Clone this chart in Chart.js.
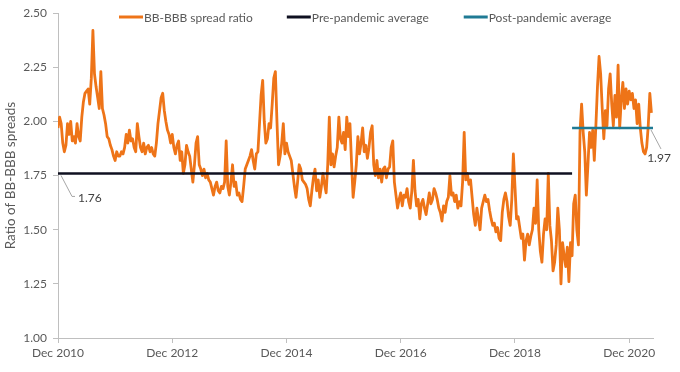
<!DOCTYPE html>
<html>
<head>
<meta charset="utf-8">
<script src="https://cdn.jsdelivr.net/npm/chart.js@4.4.1/dist/chart.umd.min.js"></script>
<style>
  html, body { margin: 0; padding: 0; background: #ffffff; }
  #wrap { width: 680px; height: 372px; position: relative; }
</style>
</head>
<body>
<div id="wrap"><canvas id="c" width="680" height="372"></canvas></div>
<script>
// ---- Data ----
// BB-BBB spread ratio, three readings per month, starting Dec 2010
const samplesPerMonth = 3;
const ratio = [
  1.97, 2.02, 1.99,  1.90, 1.86, 1.89,  1.99, 1.94, 2.00,  1.91, 1.93, 1.90,
  1.99, 1.93, 1.91,  2.02, 2.09, 2.13,  2.14, 2.15, 2.08,  2.20, 2.42, 2.22,
  2.16, 2.11, 2.06,  2.23, 2.06, 2.03,  1.99, 1.93, 1.92,  1.89, 1.87, 1.84,
  1.82, 1.86, 1.84,  1.84, 1.86, 1.85,  1.88, 1.94, 1.90,  1.96, 1.91, 1.92,
  1.88, 1.86, 1.99,  1.93, 1.88, 1.86,  1.90, 1.85, 1.88,  1.89, 1.86, 1.88,
  1.85, 1.84, 1.90,  1.99, 2.05, 2.11,  2.13, 2.05, 2.00,  1.96, 1.94, 1.90,
  1.94, 1.88, 1.85,  1.89, 1.91, 1.82,  1.86, 1.76, 1.80,  1.89, 1.86, 1.84,
  1.78, 1.72, 1.80,  1.90, 1.93, 1.80,  1.78, 1.75, 1.78,  1.74, 1.76, 1.73,
  1.72, 1.69, 1.66,  1.70, 1.72, 1.68,  1.67, 1.70, 1.69,  1.72, 1.91, 1.70,
  1.66, 1.72, 1.80,  1.70, 1.72, 1.66,  1.67, 1.64, 1.63,  1.70, 1.78, 1.80,
  1.82, 1.84, 1.87,  1.82, 1.78, 1.85,  1.86, 1.99, 2.12,  2.19, 2.00, 1.90,
  1.92, 1.99, 1.97,  2.08, 2.20, 2.23,  2.00, 1.80, 1.84,  1.90, 1.99, 1.85,
  1.90, 1.86, 1.84,  1.82, 1.76, 1.70,  1.65, 1.72, 1.80,  1.78, 1.73, 1.72,
  1.71, 1.69, 1.64,  1.61, 1.68, 1.74,  1.78, 1.68, 1.73,  1.65, 1.70, 1.76,
  1.71, 1.67, 1.80,  2.02, 1.80, 1.85,  1.79, 1.84, 1.88,  2.02, 1.92, 1.90,
  1.95, 1.87, 2.02,  1.93, 1.99, 1.81,  1.65, 1.72, 1.80,  1.93, 1.85, 1.90,
  1.97, 1.86, 1.89,  1.83, 1.88, 1.95,  1.98, 1.80, 1.75,  1.82, 1.74, 1.78,
  1.72, 1.78, 1.79,  1.74, 1.78, 1.79,  1.88, 1.91, 1.72,  1.66, 1.60, 1.64,
  1.67, 1.61, 1.66,  1.65, 1.69, 1.63,  1.60, 1.68, 1.82,  1.68, 1.61, 1.64,
  1.55, 1.62, 1.64,  1.60, 1.57, 1.62,  1.67, 1.62, 1.64,  1.69, 1.67, 1.64,
  1.60, 1.58, 1.54,  1.61, 1.58, 1.63,  1.65, 1.75, 1.66,  1.67, 1.63, 1.66,
  1.60, 1.63, 1.61,  1.72, 1.95, 1.73,  1.76, 1.71, 1.73,  1.65, 1.57, 1.52,
  1.60, 1.55, 1.50,  1.60, 1.63, 1.66,  1.63, 1.64, 1.59,  1.55, 1.52, 1.53,
  1.49, 1.51, 1.46,  1.45, 1.58, 1.64,  1.67, 1.63, 1.56,  1.52, 1.64, 1.85,
  1.70, 1.55, 1.56,  1.51, 1.46, 1.48,  1.36, 1.45, 1.48,  1.43, 1.47, 1.50,
  1.60, 1.53, 1.73,  1.50, 1.40, 1.35,  1.48, 1.55, 1.50,  1.76, 1.52, 1.45,
  1.31, 1.35, 1.43,  1.60, 1.50, 1.25,  1.44, 1.38, 1.33,  1.42, 1.26, 1.44,
  1.38, 1.62, 1.66,  1.50, 1.43, 1.95,  2.08, 1.95, 1.86,  1.66, 1.80, 1.95,
  1.88, 1.96, 1.82,  1.98, 2.16, 2.30,  2.22, 2.06, 1.92,  2.05, 1.98, 2.15,
  2.22, 2.08, 1.98,  2.12, 2.02, 2.26,  1.97, 2.10, 2.18,  2.06, 2.15, 2.08,
  2.14, 2.10, 2.13,  2.06, 2.10, 1.99,  2.08, 1.97, 1.90,  1.86, 1.85, 1.88,
  1.98, 2.13, 2.04
];
// Averages: value, start month, end month (months since Dec 2010)
const avgNames  = ['Pre-pandemic average', 'Post-pandemic average'];
const avgValues = [1.76, 1.97];
const avgStart  = [0, 108];
const avgEnd    = [108, 125];
// Axis ticks
const xTickMonths = [0, 24, 48, 72, 96, 120];
const xTickLabels = ['Dec 2010', 'Dec 2012', 'Dec 2014', 'Dec 2016', 'Dec 2018', 'Dec 2020'];
const xMaxMonth = 125;
const yTicks = [1.00, 1.25, 1.50, 1.75, 2.00, 2.25, 2.50];

// ---- Build chart ----
const ratioPoints = ratio.map((v, i) => ({ x: i / samplesPerMonth, y: v }));
const avgLine = k => [{ x: avgStart[k], y: avgValues[k] }, { x: avgEnd[k], y: avgValues[k] }];

const TEXT = '#595959';
const AXIS = '#bfbfbf';
Chart.defaults.font.family = 'Lato, "Open Sans", sans-serif';
Chart.defaults.font.size = 12;
Chart.defaults.color = TEXT;

const legendPlugin = {
  id: 'customLegend',
  afterDraw(chart) {
    const ctx = chart.ctx;
    ctx.save();
    ctx.font = '12px Lato, "Open Sans", sans-serif';
    ctx.textBaseline = 'middle';
    ctx.textAlign = 'left';
    let x = 119;
    const y = 17;
    const gaps = [34, 35];
    chart.data.datasets.forEach((ds, i) => {
      ctx.strokeStyle = ds.borderColor;
      ctx.lineWidth = 3;
      ctx.beginPath();
      ctx.moveTo(x, y);
      ctx.lineTo(x + 24, y);
      ctx.stroke();
      ctx.fillStyle = TEXT;
      ctx.fillText(ds.label, x + 25, y + 1);
      x += 25 + ctx.measureText(ds.label).width + (gaps[i] || 0);
    });
    ctx.restore();
  }
};

const labelPlugin = {
  id: 'avgLabels',
  afterDatasetsDraw(chart) {
    const ctx = chart.ctx;
    const xs = chart.scales.x, ys = chart.scales.y;
    ctx.save();
    ctx.strokeStyle = '#a6a6a6';
    ctx.lineWidth = 1;
    ctx.fillStyle = '#404040';
    ctx.font = '12px Lato, "Open Sans", sans-serif';
    ctx.textBaseline = 'middle';
    const p0x = xs.getPixelForValue(avgStart[0]);
    const p0y = ys.getPixelForValue(avgValues[0]);
    ctx.beginPath();
    ctx.moveTo(p0x + 3, p0y + 2);
    ctx.lineTo(p0x + 14, p0y + 23);
    ctx.lineTo(p0x + 17, p0y + 23);
    ctx.stroke();
    ctx.textAlign = 'left';
    ctx.fillText(avgValues[0].toFixed(2), p0x + 20, p0y + 25);
    const p1x = xs.getPixelForValue(avgEnd[1]) - 1;
    const p1y = ys.getPixelForValue(avgValues[1]);
    ctx.beginPath();
    ctx.moveTo(p1x - 1, p1y + 2);
    ctx.lineTo(p1x + 9, p1y + 21);
    ctx.stroke();
    ctx.textAlign = 'center';
    ctx.fillText(avgValues[1].toFixed(2), p1x + 7, p1y + 30);
    ctx.restore();
  }
};

new Chart(document.getElementById('c'), {
  type: 'line',
  data: {
    datasets: [
      { label: 'BB-BBB spread ratio', data: ratioPoints, borderColor: '#EE7418', backgroundColor: '#EE7418',
        borderWidth: 2.8, borderJoinStyle: 'round', pointRadius: 0, tension: 0, order: 3 },
      { label: avgNames[0], data: avgLine(0), borderColor: '#0F1020', backgroundColor: '#0F1020',
        borderWidth: 2.6, pointRadius: 0, order: 1 },
      { label: avgNames[1], data: avgLine(1), borderColor: '#1F7A94', backgroundColor: '#1F7A94',
        borderWidth: 2.6, pointRadius: 0, order: 1 }
    ]
  },
  options: {
    responsive: false,
    animation: false,
    parsing: false,
    normalized: true,
    events: [],
    layout: { padding: { left: 0, right: 27, top: 8, bottom: 0 } },
    plugins: { legend: { display: false }, tooltip: { enabled: false } },
    scales: {
      x: {
        type: 'linear',
        min: 0,
        max: xMaxMonth,
        afterBuildTicks: s => { s.ticks = xTickMonths.map(v => ({ value: v })); },
        afterFit: s => { s.height = 34; },
        ticks: {
          color: TEXT,
          font: { size: 12 },
          padding: 3,
          maxRotation: 0,
          autoSkip: false,
          callback: v => xTickLabels[xTickMonths.indexOf(v)]
        },
        grid: { display: true, drawOnChartArea: false, drawTicks: true, tickLength: 5, color: AXIS },
        border: { display: true, color: AXIS, width: 1 }
      },
      y: {
        min: 1,
        max: 2.5,
        afterBuildTicks: s => { s.ticks = yTicks.map(v => ({ value: v })); },
        afterFit: s => { s.width = 58; },
        ticks: { color: TEXT, font: { size: 12 }, padding: 6, callback: v => Number(v).toFixed(2) },
        grid: { display: true, drawOnChartArea: false, drawTicks: true, tickLength: 5, color: AXIS },
        border: { display: true, color: AXIS, width: 1 },
        title: { display: true, text: 'Ratio of BB-BBB spreads', color: TEXT, font: { size: 13.5 }, padding: { top: 3, bottom: 0 } }
      }
    }
  },
  plugins: [legendPlugin, labelPlugin]
});
</script>
</body>
</html>
